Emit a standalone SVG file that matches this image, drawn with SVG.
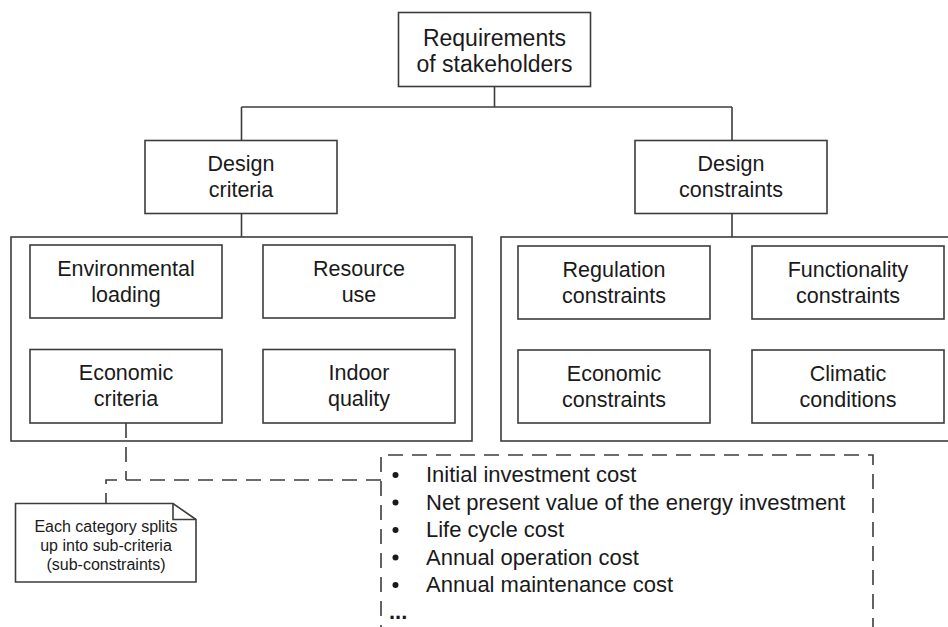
<svg xmlns="http://www.w3.org/2000/svg" width="948" height="627" viewBox="0 0 948 627">
<style>
  .box { fill: #ffffff; stroke: #3c3c3c; stroke-width: 1.6; }
  .cont { fill: none; stroke: #3c3c3c; stroke-width: 1.6; }
  .line { fill: none; stroke: #3c3c3c; stroke-width: 1.6; }
  .dash { fill: none; stroke: #3c3c3c; stroke-width: 1.6; stroke-dasharray: 15 9; }
  .t { font-family: "Liberation Sans", Arial, Helvetica, sans-serif; fill: #1a1a1a; text-anchor: middle; }
  .big { font-size: 23px; }
  .mid { font-size: 21.5px; }
  .note { font-size: 16px; }
  .list { font-family: "Liberation Sans", Arial, Helvetica, sans-serif; fill: #1a1a1a; font-size: 22px; }
</style>
<rect width="948" height="627" fill="#ffffff"/>

<g id="connectors">
  <line class="line" x1="494.5" y1="86" x2="494.5" y2="107"/>
  <line class="line" x1="241.5" y1="107" x2="732" y2="107"/>
  <line class="line" x1="241.5" y1="107" x2="241.5" y2="140.5"/>
  <line class="line" x1="732" y1="107" x2="732" y2="140.5"/>
  <line class="line" x1="241.5" y1="213.5" x2="241.5" y2="237"/>
  <line class="line" x1="732" y1="213.5" x2="732" y2="237"/>
  <path class="dash" d="M126,423 L126,480"/>
  <path class="dash" d="M381,480 L106,480 L106,503"/>
</g>

<g id="req">
  <rect class="box" x="398.5" y="12.5" width="192" height="74"/>
  <text class="t big" x="494.5" y="46">Requirements</text>
  <text class="t big" x="494.5" y="72">of stakeholders</text>
</g>

<g id="design-criteria">
  <rect class="box" x="145" y="140.5" width="192" height="73"/>
  <text class="t mid" x="241" y="171">Design</text>
  <text class="t mid" x="241" y="197">criteria</text>
</g>

<g id="design-constraints">
  <rect class="box" x="635" y="140.5" width="192" height="73"/>
  <text class="t mid" x="731" y="171">Design</text>
  <text class="t mid" x="731" y="197">constraints</text>
</g>

<g id="criteria-group">
  <rect class="cont" x="11" y="237" width="461" height="204"/>
</g>

<g id="constraints-group">
  <rect class="cont" x="501" y="237" width="470" height="204"/>
</g>

<g id="env">
  <rect class="box" x="30" y="245" width="192" height="73"/>
  <text class="t mid" x="126" y="276">Environmental</text>
  <text class="t mid" x="126" y="302">loading</text>
</g>

<g id="resource">
  <rect class="box" x="263" y="245" width="192" height="73"/>
  <text class="t mid" x="359" y="276">Resource</text>
  <text class="t mid" x="359" y="302">use</text>
</g>

<g id="economic-criteria">
  <rect class="box" x="30" y="349.5" width="192" height="73.5"/>
  <text class="t mid" x="126" y="380">Economic</text>
  <text class="t mid" x="126" y="406">criteria</text>
</g>

<g id="indoor">
  <rect class="box" x="263" y="349.5" width="192" height="73.5"/>
  <text class="t mid" x="359" y="380">Indoor</text>
  <text class="t mid" x="359" y="406">quality</text>
</g>

<g id="regulation">
  <rect class="box" x="518" y="246" width="192" height="73"/>
  <text class="t mid" x="614" y="277">Regulation</text>
  <text class="t mid" x="614" y="303">constraints</text>
</g>

<g id="functionality">
  <rect class="box" x="752" y="246" width="192" height="73"/>
  <text class="t mid" x="848" y="277">Functionality</text>
  <text class="t mid" x="848" y="303">constraints</text>
</g>

<g id="economic-constraints">
  <rect class="box" x="518" y="350" width="192" height="73"/>
  <text class="t mid" x="614" y="381">Economic</text>
  <text class="t mid" x="614" y="407">constraints</text>
</g>

<g id="climatic">
  <rect class="box" x="752" y="350" width="192" height="73"/>
  <text class="t mid" x="848" y="381">Climatic</text>
  <text class="t mid" x="848" y="407">conditions</text>
</g>

<g id="note">
  <path class="box" d="M15.5,503.5 L173,503.5 L196,519.5 L196,582 L15.5,582 Z"/>
  <path class="line" d="M173,503.5 L173,519.5 L196,519.5"/>
  <text class="t note" x="106" y="532">Each category splits</text>
  <text class="t note" x="106" y="551">up into sub-criteria</text>
  <text class="t note" x="106" y="570">(sub-constraints)</text>
</g>

<g id="sub-criteria-list">
  <path class="dash" d="M381,640 L381,455 L873,455 L873,640"/>
  <g fill="#1a1a1a">
    <circle cx="395.5" cy="475" r="3"/>
    <circle cx="395.5" cy="502.5" r="3"/>
    <circle cx="395.5" cy="530" r="3"/>
    <circle cx="395.5" cy="557.5" r="3"/>
    <circle cx="395.5" cy="585" r="3"/>
  </g>
  <text class="list" x="426" y="482">Initial investment cost</text>
  <text class="list" x="426" y="509.5">Net present value of the energy investment</text>
  <text class="list" x="426" y="537">Life cycle cost</text>
  <text class="list" x="426" y="564.5">Annual operation cost</text>
  <text class="list" x="426" y="592">Annual maintenance cost</text>
  <text class="list" x="389" y="619" font-weight="bold" font-size="20">...</text>
</g>
</svg>
